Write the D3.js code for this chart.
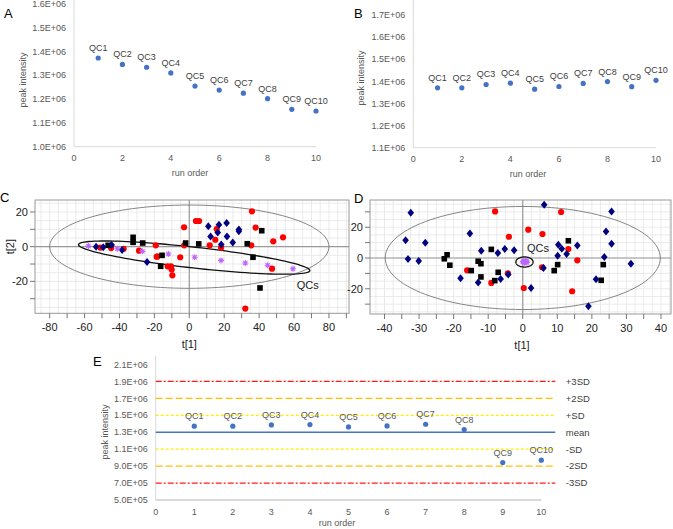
<!DOCTYPE html>
<html>
<head>
<meta charset="utf-8">
<script src="https://cdn.jsdelivr.net/npm/d3@7"></script>
<style>
body{margin:0;background:#fff}
svg{font-family:"Liberation Sans",Arial,sans-serif;display:block}
</style>
</head>
<body>
<svg width="673" height="529"></svg>
<script>
// run order charts (A, B, E)
const runOrder = [1,2,3,4,5,6,7,8,9,10];
const qcNames = runOrder.map(d => 'QC' + d);
const peakA = [1.373e6,1.346e6,1.334e6,1.310e6,1.255e6,1.238e6,1.225e6,1.202e6,1.157e6,1.150e6];
const peakB = [1.371e6,1.371e6,1.386e6,1.392e6,1.365e6,1.377e6,1.391e6,1.399e6,1.376e6,1.405e6];
const peakE = [1.371e6,1.371e6,1.386e6,1.391e6,1.363e6,1.374e6,1.394e6,1.332e6,0.942e6,0.970e6];
const runTicks = [0,2,4,6,8,10];
const runTicksE = [0,1,2,3,4,5,6,7,8,9,10];
const yTicksA = [1.0e6,1.1e6,1.2e6,1.3e6,1.4e6,1.5e6,1.6e6];
const yTicksB = [1.1e6,1.2e6,1.3e6,1.4e6,1.5e6,1.6e6,1.7e6];
const yTicksE = [5e5,7e5,9e5,1.1e6,1.3e6,1.5e6,1.7e6,1.9e6,2.1e6];
const sdLabels = ['+3SD','+2SD','+SD','mean','-SD','-2SD','-3SD'];
const sdValues = [1.9e6,1.7e6,1.5e6,1.3e6,1.1e6,0.9e6,0.7e6];

// PCA scores, panel C
const cRed = [[35.9,20.4],[3.8,14.8],[5.6,14.8],[-3.0,11.2],[15.7,10.2],[38,11],[14.9,4.0],[11.7,0.8],
  [18.2,-0.6],[35.5,0.8],[48.1,3.1],[53.7,5.4],[47.4,-12.7],[32.1,-35.7],[-2.9,0.8],[-5.2,-6.1],
  [-19.2,0.8],[-18.7,-5.8],[-18.2,-5.6],[-28.8,-2.3],[-37.6,-1.2],[-44.8,-0.8],[-51,-0.5],[-12.4,-11.3],
  [-10.5,-11.3],[-10.1,-13.2],[-9.7,-16.5]];
const cBlack = [[-32.2,5.4],[-32.2,2.5],[-26.7,2.1],[-15.6,-5],[-16.4,-11.3],[-2.1,2.1],[-46.5,0.8],
  [5.4,1.6],[33.2,1.7],[41.5,9.2],[36.5,-6.1],[40.5,-23.8]];
const cNavy = [[-53.4,0],[-49.3,-0.4],[-44.5,1],[-38.5,-1.9],[-24.2,-8.9],[10.9,11.7],[12.2,5.9],
  [16.3,8.2],[17,12.7],[21.4,13.6],[21.6,5.8],[24.9,2.4],[28.4,8.9],[28.4,9.9],[18.3,1.3]];
const cQC = [[-57.8,0.4],[-41.2,-1.2],[-26.9,-2.7],[-12,-4.2],[3.1,-6.1],[18.2,-7.9],[32.1,-9.4],
  [44.9,-10.7],[59.4,-12.7]];

// PCA scores, panel D
const dRed = [[-8,30.3],[-4,13.8],[-16.1,-8],[-9.1,-16.2],[-4.3,-9.9],[0.3,-19.5],[11.1,29.9],
  [1.6,18.4],[5.7,15.6],[13.2,5.8],[15.8,-1.5],[5.6,-6],[14.3,-21.6]];
const dBlack = [[-21.9,2.1],[-22.7,-0.5],[-21.1,-4.7],[-9.1,5.6],[-12.9,-2.1],[-12.1,-3.7],[-14.9,-8.2],
  [-12.1,-12.3],[-7.1,-9.3],[-8.1,-14.7],[13.2,11.2],[10.1,-4.3],[9.1,-8.2],[23.3,-4.3],[22.7,-14.5]];
const dNavy = [[-32.4,29.4],[-33.9,11.5],[-28.2,9.9],[-33.2,-0.6],[-30.1,-1.9],[-15.3,16],[-12,4.7],
  [-7.2,3.2],[-5.2,5.8],[-2.5,5],[-18,-13.2],[-12.9,-16],[-6.4,-13.6],[-4.2,-10.8],
  [6.2,34.6],[25.7,30.3],[24.1,17.3],[25.7,9.3],[10.3,8.6],[11.3,6],[12.7,2.6],[10.1,1.5],
  [15.8,8.2],[23.6,0.6],[31.3,-3.7],[6,-6.5],[21.2,-13.8],[2.4,-19.5],[19,-31.4]];
const dQC = [[0.2,-2.2],[0.6,-2.8],[1.0,-2.4],[0.4,-3.0],[0.8,-2.0],[1.2,-2.9],[0.0,-2.6],[0.7,-2.5],[1.1,-2.2],[0.5,-2.7]];

const svg = d3.select('svg');

const fmtE = v => {
	const e = Math.floor(Math.log10(v) + 1e-9);
	return (v / Math.pow(10, e)).toFixed(1) + 'E+' + String(e).padStart(2, '0');
};

function panelLetter(txt, x, y){
	svg.append('text').attr('x', x).attr('y', y).attr('font-size', 13).attr('fill', '#000').text(txt);
}

function runPanel(o){
	const x = d3.scaleLinear().domain([0, 10]).range(o.xRange);
	const y = d3.scaleLinear().domain(o.yDomain).range(o.yRange);
	const g = svg.append('g');
	const y0 = y(o.yDomain[0]);

	g.append('line')
		.attr('x1', x(0)).attr('x2', x(0))
		.attr('y1', y0).attr('y2', y(o.yDomain[1]))
		.attr('stroke', '#d9d9d9');
	g.append('line')
		.attr('x1', x(0)).attr('x2', x(10))
		.attr('y1', y0).attr('y2', y0)
		.attr('stroke', '#d9d9d9').attr('stroke-width', o.bottomWidth || 1);

	g.selectAll('.yt').data(o.yTicks).join('text')
		.attr('x', x(0) - 8).attr('y', d => y(d)).attr('dy', '0.35em')
		.attr('text-anchor', 'end').attr('font-size', 9).attr('fill', '#595959')
		.text(fmtE);
	g.selectAll('.xt').data(o.xTicks).join('text')
		.attr('x', d => x(d)).attr('y', y0 + 14.5)
		.attr('text-anchor', 'middle').attr('font-size', 9).attr('fill', '#595959')
		.text(d => d);

	if(o.ref){
		// +3SD ... -3SD line styles
		const styles = [
			['#ff1a1a', '6,2,2,2'], ['#ffc000', '7,3'], ['#ffee00', '3,2'], ['#4472c4', null],
			['#ffee00', '3,2'], ['#ffc000', '7,3'], ['#ff1a1a', '6,2,2,2']
		];
		sdValues.forEach((v, i) => {
			g.append('line')
				.attr('x1', x(0)).attr('x2', x(10) + 14)
				.attr('y1', y(v)).attr('y2', y(v))
				.attr('stroke', styles[i][0]).attr('stroke-width', 1.3)
				.attr('stroke-dasharray', styles[i][1]);
			g.append('text')
				.attr('x', x(10) + 24.5).attr('y', y(v)).attr('dy', '0.35em')
				.attr('font-size', 9.5).attr('fill', '#404040')
				.text(sdLabels[i]);
		});
	}

	g.selectAll('.dot').data(o.values).join('circle')
		.attr('cx', (d, i) => x(runOrder[i])).attr('cy', d => y(d))
		.attr('r', 2.6).attr('fill', '#4472c4');
	g.selectAll('.lab').data(o.values).join('text')
		.attr('x', (d, i) => x(runOrder[i])).attr('y', d => y(d) - 7)
		.attr('text-anchor', 'middle').attr('font-size', 9).attr('fill', o.labelColor)
		.text((d, i) => qcNames[i]);

	g.append('text')
		.attr('x', o.xTitle[0]).attr('y', o.xTitle[1])
		.attr('text-anchor', 'middle').attr('font-size', 9).attr('fill', '#595959')
		.text('run order');
	g.append('text')
		.attr('transform', `translate(${o.yTitle[0]},${o.yTitle[1]}) rotate(-90)`)
		.attr('dy', '0.35em').attr('text-anchor', 'middle').attr('font-size', 9).attr('fill', '#595959')
		.text('peak intensity');
}

function ellipsePts(cx, cy, a, b, theta){
	const pts = [];
	for(let k = 0; k < 120; k++){
		const t = k / 120 * Math.PI * 2;
		const u = a * Math.cos(t), v = b * Math.sin(t);
		pts.push([cx + u * Math.cos(theta) - v * Math.sin(theta), cy + u * Math.sin(theta) + v * Math.cos(theta)]);
	}
	return pts;
}

function scorePanel(o){
	const x = d3.scaleLinear().domain(o.xDomain).range(o.xRange);
	const y = d3.scaleLinear().domain(o.yDomain).range(o.yRange);
	const g = svg.append('g');
	const [l, r] = o.xRange, [b, t] = o.yRange;

	g.selectAll('.gx').data(o.gridX).join('line')
		.attr('x1', d => x(d)).attr('x2', d => x(d)).attr('y1', t).attr('y2', b)
		.attr('stroke', '#e6e6e6').attr('stroke-width', 0.8);
	g.selectAll('.gy').data(o.gridY).join('line')
		.attr('x1', l).attr('x2', r).attr('y1', d => y(d)).attr('y2', d => y(d))
		.attr('stroke', '#e6e6e6').attr('stroke-width', 0.8);

	g.append('line').attr('x1', x(0)).attr('x2', x(0)).attr('y1', t).attr('y2', b)
		.attr('stroke', '#9a9a9a').attr('stroke-width', 1.2);
	g.append('line').attr('x1', l).attr('x2', r).attr('y1', y(0)).attr('y2', y(0))
		.attr('stroke', '#9a9a9a').attr('stroke-width', 1.2);
	g.append('rect').attr('x', l).attr('y', t).attr('width', r - l).attr('height', b - t)
		.attr('fill', 'none').attr('stroke', '#9a9a9a');

	g.selectAll('.tx').data(o.tickX).join('line')
		.attr('x1', d => x(d)).attr('x2', d => x(d)).attr('y1', b).attr('y2', b + 5)
		.attr('stroke', '#777');
	g.selectAll('.ty').data(o.tickY).join('line')
		.attr('x1', l - 5).attr('x2', l).attr('y1', d => y(d)).attr('y2', d => y(d))
		.attr('stroke', '#777');
	g.selectAll('.lx').data(o.labelX).join('text')
		.attr('x', d => x(d)).attr('y', b + 18)
		.attr('text-anchor', 'middle').attr('font-size', 11).attr('fill', '#222')
		.text(d => d);
	g.selectAll('.ly').data(o.labelY).join('text')
		.attr('x', l - 7).attr('y', d => y(d)).attr('dy', '0.35em')
		.attr('text-anchor', 'end').attr('font-size', 11).attr('fill', '#222')
		.text(d => d);

	const line = d3.line().x(d => x(d[0])).y(d => y(d[1])).curve(d3.curveLinearClosed);
	g.append('path').attr('d', line(ellipsePts(...o.hotelling)))
		.attr('fill', 'none').attr('stroke', '#777').attr('stroke-width', 0.9);
	g.append('path').attr('d', line(ellipsePts(...o.qcEllipse)))
		.attr('fill', 'none').attr('stroke', '#111').attr('stroke-width', 1.3);

	g.selectAll('.red').data(o.red).join('circle')
		.attr('cx', d => x(d[0])).attr('cy', d => y(d[1])).attr('r', 3.1).attr('fill', '#ff0000');
	g.selectAll('.blk').data(o.black).join('rect')
		.attr('x', d => x(d[0]) - 2.8).attr('y', d => y(d[1]) - 2.8)
		.attr('width', 5.6).attr('height', 5.6).attr('fill', '#000');
	g.selectAll('.nav').data(o.navy).join('path')
		.attr('transform', d => `translate(${x(d[0])},${y(d[1])})`)
		.attr('d', 'M0,-4L3.3,0L0,4L-3.3,0Z').attr('fill', '#000080');
	g.selectAll('.qc').data(o.qc).join('path')
		.attr('transform', d => `translate(${x(d[0])},${y(d[1])})`)
		.attr('d', 'M-3,0H3M0,-3V3M-2.1,-2.1L2.1,2.1M-2.1,2.1L2.1,-2.1')
		.attr('stroke', '#bf66ff').attr('stroke-width', 1.1).attr('fill', 'none');

	g.append('text').attr('x', x(o.qcLabel[0])).attr('y', y(o.qcLabel[1]))
		.attr('font-size', 11).attr('fill', '#222').text('QCs');
	g.append('text').attr('x', (l + r) / 2 + (o.titleShift || 0)).attr('y', b + 35)
		.attr('text-anchor', 'middle').attr('font-size', 11).attr('fill', '#222').text('t[1]');
	if(o.yTitle){
		g.append('text')
			.attr('transform', `translate(${o.yTitle[0]},${o.yTitle[1]}) rotate(-90)`)
			.attr('dy', '0.35em').attr('text-anchor', 'middle').attr('font-size', 11).attr('fill', '#222')
			.text('t[2]');
	}
}

runPanel({
	values: peakA, xRange: [74, 316], yDomain: [1.0e6, 1.7e6], yRange: [146.7, -19.8],
	yTicks: yTicksA, xTicks: runTicks, labelColor: '#404040',
	xTitle: [190, 175.5], yTitle: [23, 80]
});
runPanel({
	values: peakB, xRange: [413.3, 656], yDomain: [1.1e6, 1.8e6], yRange: [147.7, -7],
	yTicks: yTicksB, xTicks: runTicks, labelColor: '#404040',
	xTitle: [528, 177], yTitle: [361, 78]
});
runPanel({
	values: peakE, xRange: [155.7, 541.3], yDomain: [5e5, 2.2e6], yRange: [500, 356],
	yTicks: yTicksE, xTicks: runTicksE, labelColor: '#595959', ref: true, bottomWidth: 2,
	xTitle: [337, 526], yTitle: [105, 432]
});

scorePanel({
	xDomain: [-88.4, 91.5], xRange: [35, 349], yDomain: [-38.4, 26.9], yRange: [313.3, 200],
	gridX: d3.range(-85, 91, 5), gridY: d3.range(-35, 26, 5),
	tickX: d3.range(-80, 91, 10), tickY: d3.range(-30, 21, 10),
	labelX: [-80,-60,-40,-20,0,20,40,60,80], labelY: [-20,0,20],
	hotelling: [0, 0, 80, 24, 0], qcEllipse: [2.8, -6.3, 66.7, 6, -0.1126],
	red: cRed, black: cBlack, navy: cNavy, qc: cQC, qcLabel: [61.5, -24.5],
	titleShift: -2.7, yTitle: [10, 246.7]
});
scorePanel({
	xDomain: [-44.2, 42.9], xRange: [370, 671], yDomain: [-36.4, 37.7], yRange: [314, 200],
	gridX: d3.range(-42.5, 42.6, 2.5), gridY: d3.range(-35, 36, 5),
	tickX: d3.range(-40, 41, 5), tickY: d3.range(-30, 31, 10),
	labelX: [-40,-30,-20,-10,0,10,20,30,40], labelY: [-20,0,20],
	hotelling: [0, 0, 39.8, 33.5, 0], qcEllipse: [0.5, -2.6, 2.5, 3.3, 0],
	red: dRed, black: dBlack, navy: dNavy, qc: dQC, qcLabel: [1.2, 3.9],
	titleShift: 1.5
});

panelLetter('A', 4, 18);
panelLetter('B', 354, 18);
panelLetter('C', 0, 202);
panelLetter('D', 354, 203);
panelLetter('E', 93, 366);
</script>
</body>
</html>
